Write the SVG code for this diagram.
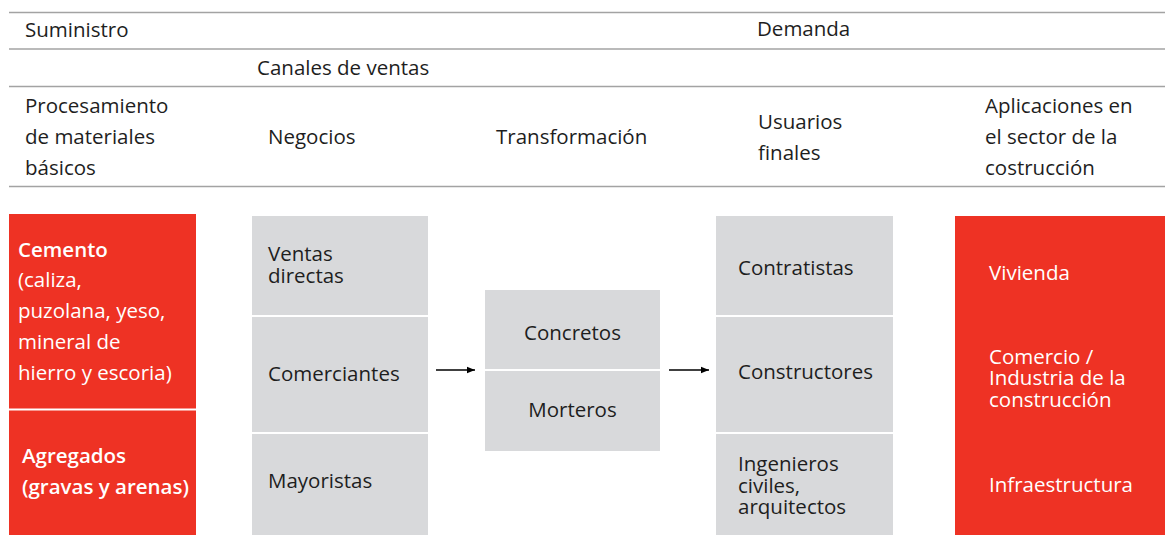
<svg xmlns="http://www.w3.org/2000/svg" width="1165" height="535" viewBox="0 0 1165 535">
<style>
text{font-family:"Open Sans","Noto Sans","Liberation Sans",sans-serif;font-size:20.5px;fill:#1e1e1e}
.w{fill:#ffffff}
.b{font-weight:600}
.red{fill:#EE3224}
.gray{fill:#D8D9DB}
.hl{stroke:#a3a3a3;stroke-width:1.5}
.arr{stroke:#000;stroke-width:1.5;fill:none}
</style>
<defs>
<marker id="ah" viewBox="0 0 10 10" refX="10" refY="5" markerWidth="8" markerHeight="8" markerUnits="userSpaceOnUse" orient="auto">
<path d="M0,1 L10,5 L0,9 z" fill="#000"/>
</marker>
</defs>
<rect width="1165" height="535" fill="#fff"/>
<g id="header">
<line class="hl" x1="9" y1="12.5" x2="1165" y2="12.5"/>
<line class="hl" x1="9" y1="49" x2="1165" y2="49"/>
<line class="hl" x1="9" y1="86.5" x2="1165" y2="86.5"/>
<line class="hl" x1="9" y1="186.5" x2="1165" y2="186.5"/>
<text x="25" y="37">Suministro</text>
<text x="757" y="36">Demanda</text>
<text x="257" y="75">Canales de ventas</text>
<text x="25" y="113">Procesamiento</text>
<text x="25" y="144">de materiales</text>
<text x="25" y="175">básicos</text>
<text x="268" y="144">Negocios</text>
<text x="496" y="144">Transformación</text>
<text x="758" y="129">Usuarios</text>
<text x="758" y="160">finales</text>
<text x="985" y="113">Aplicaciones en</text>
<text x="985" y="144">el sector de la</text>
<text x="985" y="175">costrucción</text>
</g>
<g id="cemento">
<rect class="red" x="9" y="214" width="187" height="194.5"/>
<text class="w b" x="18" y="257">Cemento</text>
<text class="w" x="18" y="287">(caliza,</text>
<text class="w" x="18" y="318">puzolana, yeso,</text>
<text class="w" x="18" y="349">mineral de</text>
<text class="w" x="18" y="380">hierro y escoria)</text>
</g>
<g id="agregados">
<rect class="red" x="9" y="410.5" width="187" height="124.5"/>
<text class="w b" x="22" y="463">Agregados</text>
<text class="w b" x="22" y="494">(gravas y arenas)</text>
</g>
<g id="ventas-directas">
<rect class="gray" x="252" y="216" width="176" height="99"/>
<text x="268" y="261">Ventas</text>
<text x="268" y="283">directas</text>
</g>
<g id="comerciantes">
<rect class="gray" x="252" y="317" width="176" height="115"/>
<text x="268" y="381">Comerciantes</text>
</g>
<g id="mayoristas">
<rect class="gray" x="252" y="434" width="176" height="101"/>
<text x="268" y="488">Mayoristas</text>
</g>
<g id="concretos">
<rect class="gray" x="485" y="290" width="175" height="79"/>
<text x="572.5" y="340" text-anchor="middle">Concretos</text>
</g>
<g id="morteros">
<rect class="gray" x="485" y="371" width="175" height="80"/>
<text x="572.5" y="417" text-anchor="middle">Morteros</text>
</g>
<g id="contratistas">
<rect class="gray" x="716" y="216" width="177" height="99"/>
<text x="738" y="275">Contratistas</text>
</g>
<g id="constructores">
<rect class="gray" x="716" y="317" width="177" height="115"/>
<text x="738" y="379">Constructores</text>
</g>
<g id="ingenieros">
<rect class="gray" x="716" y="434" width="177" height="101"/>
<text x="738" y="471">Ingenieros</text>
<text x="738" y="493">civiles,</text>
<text x="738" y="514">arquitectos</text>
</g>
<g id="aplicaciones">
<rect class="red" x="955" y="216" width="210" height="319"/>
<text class="w" x="989" y="280">Vivienda</text>
<text class="w" x="989" y="364">Comercio /</text>
<text class="w" x="989" y="385">Industria de la</text>
<text class="w" x="989" y="407">construcción</text>
<text class="w" x="989" y="492">Infraestructura</text>
</g>
<g id="connectors">
<line class="arr" x1="436" y1="370" x2="475" y2="370" marker-end="url(#ah)"/>
<line class="arr" x1="669" y1="370" x2="709" y2="370" marker-end="url(#ah)"/>
</g>
</svg>
